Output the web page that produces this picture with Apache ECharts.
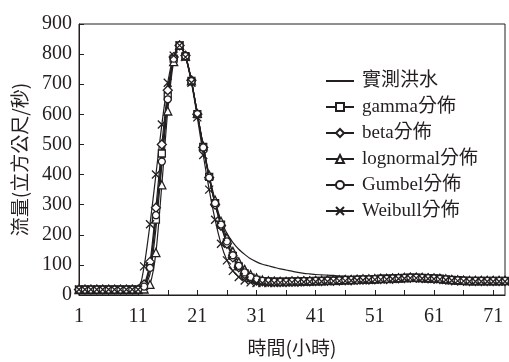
<!DOCTYPE html>
<html>
<head>
<meta charset="utf-8">
<script src="https://cdn.jsdelivr.net/npm/echarts@6/dist/echarts.min.js"></script>
<style>html,body{margin:0;padding:0;background:#fff;}#c{width:509px;height:362px;}</style>
</head>
<body>
<div id="c"></div>
<script>
var hours = ['1','2','3','4','5','6','7','8','9','10','11','12','13','14','15','16','17','18','19','20','21','22','23','24','25','26','27','28','29','30','31','32','33','34','35','36','37','38','39','40','41','42','43','44','45','46','47','48','49','50','51','52','53','54','55','56','57','58','59','60','61','62','63','64','65','66','67','68','69','70','71','72','73'];
var seriesNames = ['實測洪水','gamma分佈','beta分佈','lognormal分佈','Gumbel分佈','Weibull分佈'];
var observed = [18,18,18,18,18,18,18,18,18,18,18,
  25,70,220,430,645,787,829,793,711,601,
  492,392,305,245,205,175,152,135,120,110,
  102,97,92,87,83,79,75,72,70,68,
  67,66,65,64,62,60,58,57,57,57,
  58,58,59,60,60,61,61,60,58,56,
  55,53,52,50,49,48,48,48,48,48,
  48,48];
var gamma = [18,18,18,18,18,18,18,18,18,18,18,
  30,95,250,470,660,785,829,793,711,601,
  492,392,305,234,175,130,95,72,58,50,
  46,45,44,44,44,45,45,46,46,47,
  47,48,48,49,50,50,51,52,52,53,
  54,54,55,56,57,58,58,57,56,55,
  54,52,50,49,48,47,47,47,47,47,
  47,47];
var beta = [18,18,18,18,18,18,18,18,18,18,18,
  35,110,290,500,680,790,829,795,713,600,
  490,390,300,230,170,125,92,70,56,48,
  45,44,43,43,43,44,44,45,45,46,
  46,47,47,48,49,49,50,51,51,52,
  53,53,54,55,56,57,57,56,55,54,
  53,51,49,48,47,46,46,46,46,46,
  46,46];
var lognormal = [18,18,18,18,18,18,18,18,18,18,18,
  20,35,141,366,611,775,829,793,711,603,
  495,398,315,245,190,145,110,85,68,57,
  50,47,46,45,45,46,46,47,47,48,
  48,49,49,50,51,51,52,53,53,54,
  55,55,56,57,58,59,59,58,57,56,
  55,53,51,50,49,48,48,48,48,48,
  48,48];
var gumbel = [18,18,18,18,18,18,18,18,18,18,18,
  28,90,265,443,650,785,829,793,710,601,
  490,390,305,234,178,132,97,75,60,52,
  47,45,44,44,44,45,45,46,46,47,
  47,48,48,49,50,50,51,52,52,53,
  54,54,55,56,57,58,58,57,56,55,
  54,52,50,49,48,47,47,47,47,47,
  47,47];
var weibull = [18,18,18,18,18,18,18,18,18,18,18,
  95,235,400,566,705,795,829,790,705,590,
  465,350,250,170,115,80,60,48,42,40,
  40,40,40,41,41,42,42,43,44,44,
  45,45,46,47,47,48,49,49,50,51,
  51,52,53,54,55,56,56,55,54,53,
  52,50,48,47,46,45,45,45,45,45,
  45,45];
var yTicks = {min: 0, max: 900, step: 100};

var serif = '"Liberation Serif", "Noto Sans CJK TC", serif';
var cjk = '"Noto Sans CJK TC", "Liberation Serif", serif';
var ink = '#231f20';

function mk(name, data, symbol, size) {
  return {
    name: name, type: 'line', data: data,
    symbol: symbol, symbolSize: size, showSymbol: symbol !== 'none', showAllSymbol: true,
    smooth: 0.25,
    lineStyle: {color: ink, width: 1.2},
    itemStyle: {color: '#fff', borderColor: ink, borderWidth: 1.3},
    emphasis: {disabled: true}
  };
}
var xSym = 'path://M0,0L10,10M10,0L0,10';
var chart = echarts.init(document.getElementById('c'), null, {renderer: 'canvas'});
chart.setOption({
  animation: false,
  backgroundColor: '#fff',
  grid: {left: 79, right: 4, top: 24, bottom: 64, show: true, borderColor: ink, borderWidth: 1},
  legend: {
    orient: 'vertical', left: 320, top: 66, itemWidth: 28, itemHeight: 10, itemGap: 6,
    textStyle: {fontFamily: serif, fontSize: 19, color: ink, lineHeight: 20, padding: [0,0,0,3]},
    data: [
      {name: seriesNames[0], itemStyle: {opacity: 0}},
      seriesNames[1], seriesNames[2], seriesNames[3], seriesNames[4], seriesNames[5]
    ]
  },
  xAxis: {
    type: 'category', data: hours, boundaryGap: false,
    name: '時間(小時)', nameLocation: 'middle', nameGap: 43,
    nameTextStyle: {fontFamily: cjk, fontSize: 19, color: ink},
    axisLine: {lineStyle: {color: ink, width: 1}},
    axisTick: {inside: true, length: 5, interval: 4, lineStyle: {color: ink}},
    axisLabel: {interval: 9, fontFamily: serif, fontSize: 20, color: ink, margin: 12},
    splitLine: {show: false}
  },
  yAxis: {
    type: 'value', min: yTicks.min, max: yTicks.max, interval: yTicks.step,
    name: '流量(立方公尺/秒)', nameLocation: 'middle', nameGap: 50, nameRotate: 90,
    nameTextStyle: {fontFamily: cjk, fontSize: 19, color: ink},
    axisLine: {show: true, lineStyle: {color: ink, width: 1}},
    axisTick: {show: true, inside: true, length: 5, lineStyle: {color: ink}},
    axisLabel: {fontFamily: serif, fontSize: 20, color: ink, margin: 7},
    splitLine: {show: false}
  },
  series: [
    mk(seriesNames[0], observed, 'none', 0),
    mk(seriesNames[1], gamma, 'rect', 7),
    mk(seriesNames[2], beta, 'diamond', 9),
    mk(seriesNames[3], lognormal, 'triangle', 8),
    mk(seriesNames[4], gumbel, 'circle', 7),
    mk(seriesNames[5], weibull, xSym, 8)
  ]
});
</script>
</body>
</html>
